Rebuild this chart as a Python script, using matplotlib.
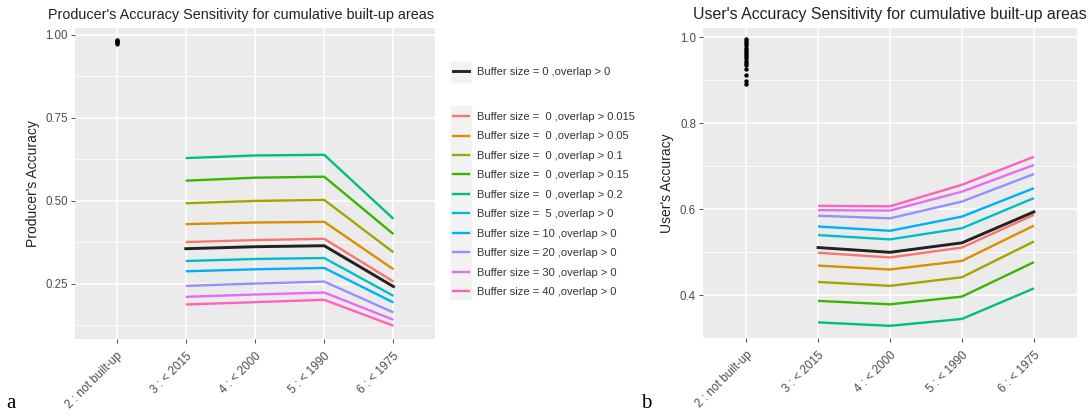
import matplotlib
matplotlib.use("Agg")
import matplotlib.pyplot as plt
from matplotlib.lines import Line2D
from matplotlib.patches import Rectangle

plt.rcParams['font.family'] = ['Liberation Sans', 'DejaVu Sans']

categories = ["2 : not built-up", "3 : < 2015", "4 : < 2000", "5 : < 1990", "6 : < 1975"]
line_cats = categories[1:]

series_labels = [
    "Buffer size =  0 ,overlap > 0.015",
    "Buffer size =  0 ,overlap > 0.05",
    "Buffer size =  0 ,overlap > 0.1",
    "Buffer size =  0 ,overlap > 0.15",
    "Buffer size =  0 ,overlap > 0.2",
    "Buffer size =  5 ,overlap > 0",
    "Buffer size = 10 ,overlap > 0",
    "Buffer size = 20 ,overlap > 0",
    "Buffer size = 30 ,overlap > 0",
    "Buffer size = 40 ,overlap > 0",
]
series_colors = ["#F8766D", "#D89000", "#A3A500", "#39B600", "#00BF7D",
                 "#00BFC4", "#00B0F6", "#9590FF", "#E76BF3", "#FF62BC"]
base_label = "Buffer size = 0 ,overlap > 0"

# Producer's accuracy (panel a)
pa_base = [0.356, 0.362, 0.365, 0.242]
pa_series = [
    [0.376, 0.382, 0.386, 0.257],
    [0.430, 0.435, 0.437, 0.294],
    [0.493, 0.500, 0.503, 0.345],
    [0.561, 0.570, 0.573, 0.400],
    [0.629, 0.637, 0.639, 0.446],
    [0.319, 0.325, 0.328, 0.214],
    [0.288, 0.294, 0.298, 0.194],
    [0.244, 0.251, 0.257, 0.164],
    [0.211, 0.218, 0.224, 0.142],
    [0.188, 0.195, 0.202, 0.124],
]
pa_notbuilt = [0.972, 0.975, 0.978, 0.980, 0.982, 0.984, 0.986]

# User's accuracy (panel b)
ua_base = [0.511, 0.500, 0.522, 0.594]
ua_series = [
    [0.499, 0.488, 0.511, 0.587],
    [0.469, 0.460, 0.480, 0.562],
    [0.431, 0.422, 0.442, 0.525],
    [0.387, 0.379, 0.397, 0.477],
    [0.337, 0.329, 0.345, 0.416],
    [0.540, 0.530, 0.556, 0.626],
    [0.560, 0.550, 0.583, 0.649],
    [0.585, 0.579, 0.618, 0.682],
    [0.598, 0.597, 0.641, 0.703],
    [0.608, 0.607, 0.657, 0.722],
]
ua_notbuilt = [0.996, 0.991, 0.986, 0.981, 0.976, 0.971, 0.966, 0.961, 0.956,
               0.951, 0.946, 0.941, 0.936, 0.926, 0.912, 0.899, 0.891]

W, H = 1092, 416
fig = plt.figure(figsize=(W / 100, H / 100), dpi=100)

def px_axes(x0, y0, x1, y1):
    return fig.add_axes([x0 / W, 1 - y1 / H, (x1 - x0) / W, (y1 - y0) / H])

def style(ax, ylim, major, minor, ylabel):
    ax.set_facecolor("#EBEBEB")
    for s in ax.spines.values():
        s.set_visible(False)
    ax.set_xlim(-0.6, 4.6)
    ax.set_ylim(*ylim)
    ax.set_xticks(range(len(categories)))
    ax.set_xticklabels(categories, rotation=45, ha="right", va="top",
                       rotation_mode="anchor", fontsize=8.5, color="#4D4D4D")
    ax.set_yticks(major)
    ax.set_yticks(minor, minor=True)
    ax.tick_params(axis="y", which="major", length=3, width=0.6,
                   color="#333333", labelsize=8.3, labelcolor="#4D4D4D", pad=2)
    ax.tick_params(axis="x", which="major", length=3, width=0.6,
                   color="#333333", labelsize=8.5, labelcolor="#4D4D4D", pad=5)
    ax.tick_params(axis="y", which="minor", length=0)
    ax.grid(True, which="major", color="white", lw=1.1, zorder=0)
    ax.grid(True, which="minor", axis="y", color="white", lw=0.55, zorder=0)
    ax.set_axisbelow(True)
    ax.set_ylabel(ylabel, fontsize=10, color="#222222", labelpad=4)

xs = list(range(1, 5))

ax1 = px_axes(75, 28, 435, 339)
style(ax1, (0.084, 1.021), [0.25, 0.50, 0.75, 1.00], [0.125, 0.375, 0.625, 0.875],
      "Producer's Accuracy")
ax1.set_yticklabels(["0.25", "0.50", "0.75", "1.00"])
for vals, c in zip(pa_series, series_colors):
    ax1.plot(xs, vals, color=c, lw=1.7, solid_capstyle="butt", zorder=3)
ax1.plot(xs, pa_base, color="#222222", lw=2.1, zorder=4)
ax1.scatter([0] * len(pa_notbuilt), pa_notbuilt, s=9, color="black", zorder=5, lw=0)

ax2 = px_axes(703, 28, 1077, 338)
style(ax2, (0.3007, 1.0216), [0.4, 0.6, 0.8, 1.0], [0.5, 0.7, 0.9],
      "User's Accuracy")
ax2.set_yticklabels(["0.4", "0.6", "0.8", "1.0"])
for vals, c in zip(ua_series, series_colors):
    ax2.plot(xs, vals, color=c, lw=1.7, solid_capstyle="butt", zorder=3)
ax2.plot(xs, ua_base, color="#222222", lw=2.1, zorder=4)
ax2.scatter([0] * len(ua_notbuilt), ua_notbuilt, s=10, color="black", zorder=5, lw=0)

# titles
fig.text(48 / W, 1 - 15 / H, "Producer's Accuracy Sensitivity for cumulative built-up areas",
         fontsize=10.4, color="#222222", ha="left", va="center")
fig.text(693 / W, 1 - 15 / H, "User's Accuracy Sensitivity for cumulative built-up areas",
         fontsize=11.4, color="#222222", ha="left", va="center")

# panel letters
fig.text(6 / W, 1 - 404 / H, "a", fontsize=15, family="Liberation Serif", va="center")
fig.text(641 / W, 1 - 404 / H, "b", fontsize=15, family="Liberation Serif", va="center")

# legend key backgrounds
fig.patches.append(Rectangle((451 / W, 1 - 82 / H), 20 / W, 20 / H,
                             transform=fig.transFigure, color="#F2F2F2", zorder=0))
fig.patches.append(Rectangle((451 / W, 1 - 299 / H), 20 / W, 193 / H,
                             transform=fig.transFigure, color="#F2F2F2", zorder=0))

h0 = [Line2D([], [], color="#222222", lw=2.1)]
leg1 = fig.legend(h0, [base_label], loc="center left",
                  bbox_to_anchor=(453 / W, 1 - 72 / H), frameon=False, fontsize=8,
                  handlelength=1.45, handletextpad=0.7, borderpad=0, borderaxespad=0)
for t in leg1.get_texts():
    t.set_color("#333333")
hs = [Line2D([], [], color=c, lw=1.7) for c in series_colors]
leg2 = fig.legend(hs, series_labels, loc="upper left",
                  bbox_to_anchor=(453 / W, 1 - 112 / H), frameon=False, fontsize=8,
                  handlelength=1.45, handletextpad=0.7, labelspacing=0.85,
                  borderpad=0, borderaxespad=0)
for t in leg2.get_texts():
    t.set_color("#333333")

fig.savefig("out.png", dpi=100)
